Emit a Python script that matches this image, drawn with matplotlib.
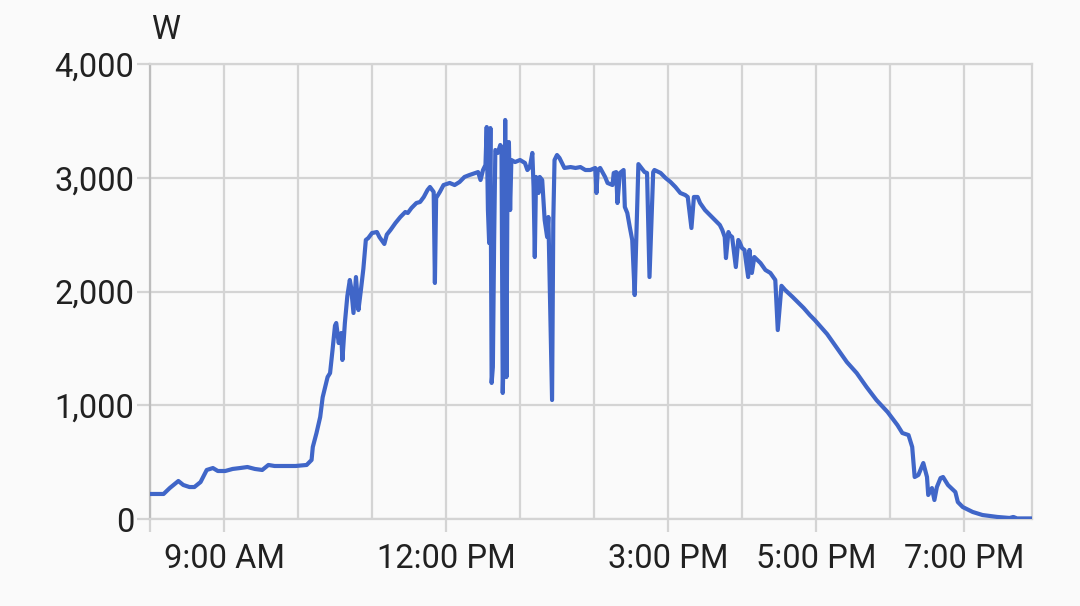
import matplotlib
matplotlib.use("Agg")
import matplotlib.pyplot as plt

# power readings (time of day, watts)
times = [
    "8:00", "8:11", "8:16", "8:23", "8:27", "8:32", "8:36", "8:41", "8:46", "8:51",
    "8:55", "9:01", "9:07", "9:13", "9:19", "9:25", "9:31", "9:36", "9:41", "9:47",
    "9:52", "9:58", "10:07", "10:11", "10:12", "10:15", "10:18", "10:20", "10:22", "10:24",
    "10:26", "10:28", "10:30", "10:31", "10:33", "10:35", "10:36", "10:38", "10:40", "10:42",
    "10:43", "10:45", "10:47", "10:49", "10:51", "10:53", "10:55", "10:57", "11:00", "11:04",
    "11:06", "11:10", "11:12", "11:15", "11:19", "11:21", "11:23", "11:27", "11:29", "11:32",
    "11:36", "11:39", "11:42", "11:45", "11:47", "11:50", "11:51", "11:52", "11:55", "11:58",
    "12:03", "12:07", "12:11", "12:15", "12:19", "12:24", "12:26", "12:28", "12:30", "12:32",
    "12:33", "12:34", "12:35", "12:36", "12:37", "12:38", "12:39", "12:40", "12:42", "12:44",
    "12:45", "12:46", "12:47", "12:48", "12:49", "12:50", "12:51", "12:52", "12:53", "12:56",
    "13:00", "13:04", "13:06", "13:08", "13:10", "13:11", "13:12", "13:13", "13:15", "13:16",
    "13:18", "13:20", "13:22", "13:23", "13:26", "13:27", "13:28", "13:30", "13:32", "13:36",
    "13:41", "13:45", "13:49", "13:53", "13:57", "14:01", "14:02", "14:03", "14:05", "14:09",
    "14:11", "14:15", "14:16", "14:18", "14:19", "14:21", "14:24", "14:25", "14:27", "14:29",
    "14:31", "14:33", "14:36", "14:41", "14:43", "14:45", "14:48", "14:49", "14:54", "14:58",
    "15:02", "15:06", "15:10", "15:14", "15:16", "15:19", "15:21", "15:24", "15:26", "15:30",
    "15:34", "15:38", "15:42", "15:44", "15:46", "15:47", "15:49", "15:50", "15:52", "15:55",
    "15:57", "15:58", "16:00", "16:02", "16:05", "16:06", "16:08", "16:10", "16:15", "16:19",
    "16:23", "16:27", "16:29", "16:32", "16:35", "16:41", "16:50", "16:55", "16:59", "17:09",
    "17:17", "17:25", "17:33", "17:41", "17:49", "17:58", "18:06", "18:10", "18:15", "18:18",
    "18:20", "18:23", "18:27", "18:30", "18:31", "18:34", "18:36", "18:38", "18:41", "18:43",
    "18:47", "18:53", "18:55", "18:59", "19:07", "19:15", "19:27", "19:37", "19:40", "19:43",
    "19:56",
]
watts = [
    220, 220, 272, 334, 299, 281, 281, 325, 431, 448,
    422, 422, 440, 448, 457, 440, 431, 475, 466, 466,
    466, 466, 475, 519, 633, 756, 897, 1070, 1160, 1248,
    1283, 1486, 1700, 1723, 1547, 1635, 1398, 1723, 1960, 2101,
    2040, 1811, 2127, 1837, 2013, 2200, 2453, 2470, 2514, 2523,
    2479, 2418, 2500, 2541, 2602, 2628, 2655, 2699, 2690, 2734,
    2778, 2787, 2831, 2892, 2919, 2875, 2075, 2822, 2875, 2936,
    2954, 2936, 2963, 3007, 3024, 3042, 3050, 2980, 3068, 3112,
    3446, 2716, 2426, 3437, 1196, 1336, 2426, 3244, 3218, 3288,
    3270, 1108, 1547, 3508, 1248, 3305, 3314, 2716, 3156, 3138,
    3156, 3130, 3068, 3094, 3218, 2919, 2303, 3007, 2866, 3007,
    2980, 2628, 2479, 2655, 1046, 2628, 3156, 3200, 3174, 3086,
    3094, 3086, 3094, 3068, 3068, 3086, 2866, 3068, 3086, 3007,
    2954, 2936, 3042, 3050, 2778, 3042, 3068, 2743, 2690, 2567,
    2453, 1969, 3120, 3050, 3042, 2127, 3050, 3068, 3042, 2998,
    2963, 2919, 2866, 2848, 2831, 2558, 2831, 2831, 2778, 2716,
    2672, 2628, 2585, 2541, 2479, 2294, 2523, 2497, 2479, 2215,
    2453, 2435, 2382, 2365, 2127, 2365, 2163, 2303, 2250, 2189,
    2163, 2101, 1661, 2050, 2013, 1952, 1855, 1793, 1749, 1626,
    1503, 1380, 1283, 1160, 1046, 941, 826, 756, 738, 633,
    369, 387, 492, 369, 211, 272, 167, 281, 360, 369,
    299, 237, 149, 105, 62, 35, 18, 9, 18, 5,
    5,
]

tick_hours = [8, 9, 12, 15, 17, 19]
tick_labels = ["", "9:00 AM", "12:00 PM", "3:00 PM", "5:00 PM", "7:00 PM"]
y_ticks = [0, 1000, 2000, 3000, 4000]


def to_hours(s):
    h, m = s.split(":")
    return int(h) + int(m) / 60


hours = [to_hours(t) for t in times]

plt.rcParams["font.family"] = ["Roboto", "DejaVu Sans"]
grid_col = "#d4d4d4"
text_col = "#212121"

fig = plt.figure(figsize=(10.8, 6.06), dpi=100, facecolor="#fafafa")
ax = fig.add_axes([150 / 1080, 1 - 519 / 606, 882 / 1080, 455 / 606])
ax.set_facecolor("#fafafa")

ax.plot(hours, watts, color="#4066c8", lw=3.0, solid_joinstyle="round", zorder=3)

ax.set_xlim(8, 8 + 882 / 74)
ax.set_ylim(0, 4000)

# hourly vertical grid, 1000 W horizontal grid
for h in range(8, 20):
    ax.axvline(h, color=grid_col, lw=1.6, zorder=1)
for v in y_ticks:
    ax.axhline(v, color=grid_col, lw=1.6, zorder=1)

ax.set_xticks(tick_hours)
ax.set_xticklabels(tick_labels)
ax.set_yticks(y_ticks)
ax.set_yticklabels([f"{v:,}" for v in y_ticks])
ax.tick_params(axis="both", length=9.5, width=1.6, color=grid_col,
               labelsize=23.5, labelcolor=text_col)
ax.tick_params(axis="x", pad=8)
ax.tick_params(axis="y", pad=2)

for side in ["top", "bottom", "right"]:
    ax.spines[side].set_color(grid_col)
    ax.spines[side].set_linewidth(1.6)
ax.spines["left"].set_color("#bdbdbd")
ax.spines["left"].set_linewidth(1.6)

fig.text(151 / 1080, 1 - 30 / 606, "W", fontsize=23.5, color=text_col,
         ha="left", va="center")

fig.savefig("out.png", dpi=100, facecolor=fig.get_facecolor())
